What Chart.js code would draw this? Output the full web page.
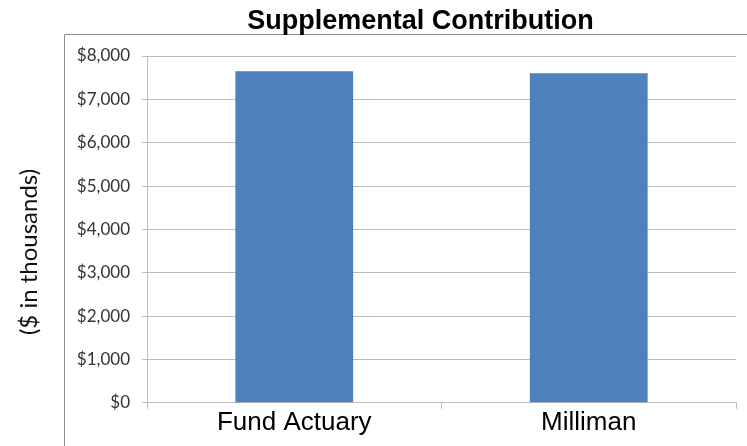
<!DOCTYPE html>
<html>
<head>
<meta charset="utf-8">
<script src="https://cdn.jsdelivr.net/npm/chart.js@4"></script>
<style>
  body { margin: 0; background: #fff; }
  canvas { display: block; }
</style>
</head>
<body>
<canvas id="chart" width="747" height="446"></canvas>
<script>
//Chart data
const categories = ["Fund Actuary", "Milliman"];
const contributionValues = [7650, 7600];
const chartTitle = "Supplemental Contribution";
const yAxisTitle = "($ in thousands)";

//Draw outer frame, chart title and the axis title
const framePlugin = {
  id: "frame",
  beforeDraw(chart) {
    const ctx = chart.ctx;
    ctx.save();
    ctx.strokeStyle = "#8c8c8c";
    ctx.lineWidth = 1;
    ctx.beginPath();
    ctx.moveTo(64.5, chart.height);
    ctx.lineTo(64.5, 34.5);
    ctx.lineTo(chart.width, 34.5);
    ctx.stroke();
    ctx.fillStyle = "#000";
    ctx.font = "bold 27px 'Liberation Sans', Arial, sans-serif";
    ctx.textAlign = "center";
    ctx.textBaseline = "alphabetic";
    ctx.fillText(chartTitle, 420.5, 29);
    //Y axis title, rotated
    ctx.translate(29, 252);
    ctx.rotate(-Math.PI / 2);
    ctx.fillStyle = "#111";
    ctx.font = "24px Lato, sans-serif";
    ctx.textBaseline = "middle";
    ctx.fillText(yAxisTitle, 0, 0);
    ctx.restore();
  },
};

const ctx = document.getElementById("chart").getContext("2d");
const chart = new Chart(ctx, {
  type: "bar",
  data: {
    labels: categories,
    datasets: [
      {
        label: chartTitle,
        data: contributionValues,
        backgroundColor: "#4f81bd",
        borderWidth: 0,
        barPercentage: 0.4,
        categoryPercentage: 1,
      },
    ],
  },
  options: {
    responsive: false,
    animation: false,
    layout: {
      padding: { left: 12, right: 11, top: 56, bottom: 10 },
    },
    plugins: {
      legend: { display: false },
      tooltip: { enabled: false },
      title: { display: false },
    },
    scales: {
      x: {
        grid: {
          offset: true,
          drawOnChartArea: false,
          drawTicks: true,
          tickLength: 6,
          color: "#bdbdbd",
        },
        border: { color: "#bdbdbd" },
        ticks: {
          color: "#000",
          padding: -2,
          font: { family: "'Liberation Sans', Arial, sans-serif", size: 26 },
        },
      },
      y: {
        min: 0,
        max: 8000,
        afterFit(scale) {
          scale.width = 135;
        },
        ticks: {
          stepSize: 1000,
          color: "#333",
          padding: 12,
          font: { family: "Lato, sans-serif", size: 17 },
          callback: (value) => "$" + value.toLocaleString("en-US"),
        },
        grid: {
          color: "#bdbdbd",
          tickLength: 5,
        },
        border: { color: "#bdbdbd" },
      },
    },
  },
  plugins: [framePlugin],
});
</script>
</body>
</html>
